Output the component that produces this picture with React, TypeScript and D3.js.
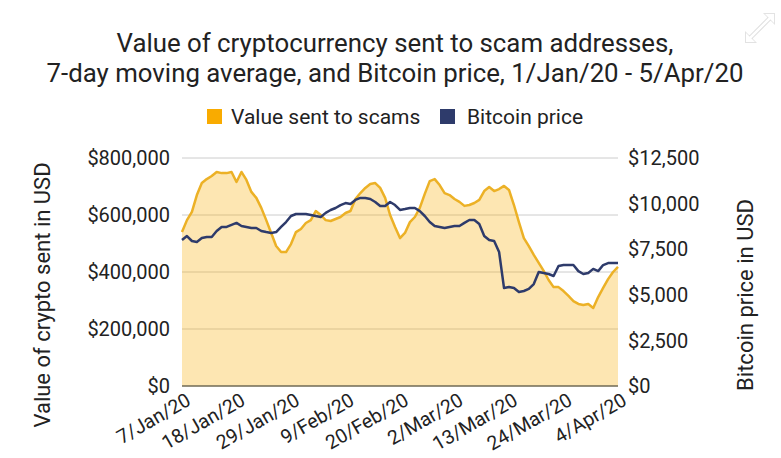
import React from "react";
import * as d3 from "d3";

const startDate = "2020-01-07";
const tickLabels = ["7/Jan/20", "18/Jan/20", "29/Jan/20", "9/Feb/20", "20/Feb/20", "2/Mar/20", "13/Mar/20", "24/Mar/20", "4/Apr/20"];
const leftTicks = [0, 200000, 400000, 600000, 800000];
const rightTicks = [0, 2500, 5000, 7500, 10000, 12500];

// 7-day moving average of value sent to scams (USD), 7 Jan - 4 Apr 2020
const scams = [
  540000, 582000, 611000, 670000, 712000, 726000, 737000, 751000, 747000, 747000,
  751000, 716000, 751000, 723000, 681000, 660000, 625000, 582000, 537000, 491000,
  470000, 470000, 498000, 540000, 551000, 572000, 582000, 614000, 600000, 582000,
  579000, 586000, 593000, 607000, 614000, 656000, 677000, 695000, 709000, 712000,
  695000, 660000, 600000, 558000, 519000, 537000, 575000, 593000, 625000, 674000,
  719000, 726000, 705000, 677000, 670000, 656000, 646000, 632000, 635000, 642000,
  653000, 684000, 698000, 684000, 691000, 702000, 688000, 635000, 575000, 519000,
  491000, 460000, 432000, 404000, 372000, 347000, 347000, 333000, 316000, 298000,
  288000, 284000, 288000, 274000, 312000, 344000, 375000, 400000, 418000,
];

// Bitcoin price (USD)
const btc = [
  8000, 8220, 7950, 7900, 8110, 8170, 8170, 8500, 8720, 8720,
  8830, 8940, 8770, 8720, 8660, 8660, 8500, 8440, 8390, 8440,
  8720, 8990, 9320, 9430, 9430, 9430, 9380, 9320, 9270, 9490,
  9650, 9760, 9920, 10030, 9980, 10200, 10310, 10310, 10250, 10090,
  9870, 9870, 10090, 9920, 9650, 9700, 9760, 9760, 9590, 9320,
  8990, 8770, 8720, 8660, 8720, 8770, 8770, 8940, 9100, 9100,
  8880, 8220, 8000, 7950, 7350, 5370, 5430, 5370, 5150, 5210,
  5320, 5590, 6250, 6200, 6140, 6030, 6580, 6630, 6630, 6630,
  6300, 6140, 6200, 6420, 6300, 6630, 6740, 6740, 6740,
];

const ORANGE_LINE = "#ecb126";
const ORANGE_FILL = "#f9ab00";
const NAVY = "#2e3b6b";
const TEXT = "#222222";
const FONT = "Roboto, 'Noto Sans', sans-serif";

export default function App() {
  const W = 781;
  const H = 458;
  const left = 182;
  const right = 618;
  const top = 158;
  const bottom = 386;

  const t0 = new Date(startDate + "T00:00:00Z");
  const dates = scams.map((_, i) => d3.utcDay.offset(t0, i));
  const x = d3.scaleUtc().domain([dates[0], dates[dates.length - 1]]).range([left, right]);
  const yL = d3.scaleLinear().domain([0, 800000]).range([bottom, top]);
  const yR = d3.scaleLinear().domain([0, 12500]).range([bottom, top]);

  const area = d3
    .area<number>()
    .x((_, i) => x(dates[i]))
    .y0(bottom)
    .y1((d) => yL(d));
  const lineS = d3
    .line<number>()
    .x((_, i) => x(dates[i]))
    .y((d) => yL(d));
  const lineB = d3
    .line<number>()
    .x((_, i) => x(dates[i]))
    .y((d) => yR(d));

  const fmt = (v: number) => "$" + d3.format(",")(v);
  const tickDates = tickLabels.map((_, k) => dates[k * 11]);

  return (
    <svg
      width={W}
      height={H}
      style={{ position: "absolute", left: 0, top: 0, background: "#fff" }}
      fontFamily={FONT}
    >
      <rect width={W} height={H} fill="#fff" />
      {/* expand icon (white with soft shadow) */}
      <g>
        <g stroke="#c8c8c8" strokeWidth={4.5} fill="none" strokeLinecap="round" opacity={0.6}>
          <path d="M750 38 L770 18" />
        </g>
        <g fill="#d0d0d0" opacity={0.6}>
          <path d="M775 13 L775 25 L763 13 Z" />
          <path d="M745 43 L745 31 L757 43 Z" />
        </g>
        <g stroke="#ffffff" strokeWidth={2.5} fill="none" strokeLinecap="round">
          <path d="M750 38 L770 18" />
        </g>
        <g fill="#ffffff">
          <path d="M774 14 L774 23 L765 14 Z" />
          <path d="M746 42 L746 33 L755 42 Z" />
        </g>
      </g>
      <text x={395} y={52} textAnchor="middle" fontSize={25.8} fill={TEXT}>
        Value of cryptocurrency sent to scam addresses,
      </text>
      <text x={395} y={82} textAnchor="middle" fontSize={25.8} fill={TEXT}>
        7-day moving average, and Bitcoin price, 1/Jan/20 - 5/Apr/20
      </text>
      {/* legend */}
      <rect x={207} y={109} width={15} height={15} fill={ORANGE_FILL} />
      <text x={231} y={124} fontSize={21} fill={TEXT}>
        Value sent to scams
      </text>
      <rect x={440} y={109} width={15} height={15} fill={NAVY} />
      <text x={467} y={124} fontSize={21} fill={TEXT}>
        Bitcoin price
      </text>
      {/* gridlines */}
      {leftTicks.slice(1).map((v) => (
        <line key={v} x1={left} x2={right} y1={yL(v)} y2={yL(v)} stroke="#cccccc" strokeWidth={1} />
      ))}
      <path d={area(scams) || ""} fill={ORANGE_FILL} fillOpacity={0.3} />
      <line x1={left} x2={right} y1={bottom} y2={bottom} stroke="#6f6a55" strokeWidth={1.5} />
      <path d={lineS(scams) || ""} fill="none" stroke={ORANGE_LINE} strokeWidth={2.5} strokeLinejoin="round" />
      <path d={lineB(btc) || ""} fill="none" stroke={NAVY} strokeWidth={2.5} strokeLinejoin="round" />
      {/* left axis labels */}
      {leftTicks.map((v) => (
        <text key={v} x={170} y={yL(v)} dy="0.36em" textAnchor="end" fontSize={20} fill={TEXT}>
          {fmt(v)}
        </text>
      ))}
      {/* right axis labels */}
      {rightTicks.map((v) => (
        <text key={v} x={628} y={yR(v)} dy="0.36em" textAnchor="start" fontSize={20} fill={TEXT}>
          {fmt(v)}
        </text>
      ))}
      {/* x labels */}
      {tickDates.map((d, k) => (
        <text
          key={k}
          transform={`translate(${x(d) + 10},${404}) rotate(-30)`}
          textAnchor="end"
          fontSize={19.5}
          fill={TEXT}
        >
          {tickLabels[k]}
        </text>
      ))}
      {/* axis titles */}
      <text transform={`translate(50,295) rotate(-90)`} textAnchor="middle" fontSize={22} fill={TEXT}>
        Value of crypto sent in USD
      </text>
      <text transform={`translate(753,295) rotate(-90)`} textAnchor="middle" fontSize={22} fill={TEXT}>
        Bitcoin price in USD
      </text>
    </svg>
  );
}
